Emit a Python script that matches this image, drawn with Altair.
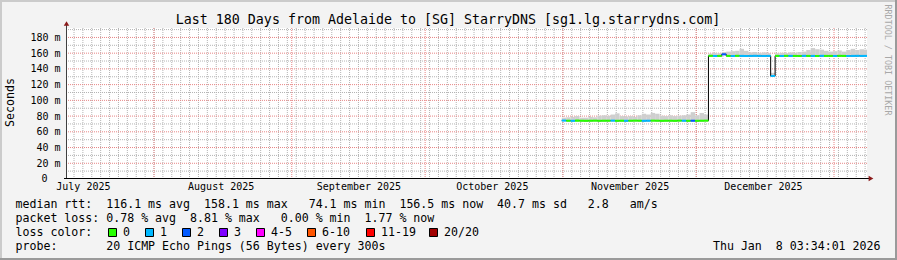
import altair as alt
import pandas as pd

# ---------------- data ----------------
SAMPLE_START = "2025-10-31T18:00:00Z"   # first consolidated (daily) sample
VIEW_START = "2025-07-12T10:12:00Z"     # left edge of the 180-day window

median_ms = [
    74.3, 74.1, 74.0, 74.2, 74.1, 74.0, 74.1, 74.2, 74.0, 74.1,
    74.1, 74.2, 74.0, 74.1, 74.0, 74.1, 74.2, 74.1, 74.0, 74.1,
    74.2, 74.1, 74.0, 74.1, 74.1, 74.0, 74.2, 74.1, 74.0, 74.1,
    74.0, 74.1, 74.2,
    156.6, 156.4, 156.5, 158.5, 156.5, 156.4, 156.6, 156.5, 156.4, 156.5,
    156.6, 156.5, 156.4, 156.5, 131.0, 156.5, 156.4, 156.6, 156.5, 156.5,
    156.4, 156.6, 156.5, 156.5, 156.4, 156.6, 156.5, 156.5, 156.4, 156.6,
    156.5, 156.4, 156.5, 156.6, 156.5, 156.5,
]
smoke_top_ms = [
    78, 78.5, 79, 80, 78, 78, 79, 78.5, 80.5, 81,
    80.5, 82, 83.5, 80, 79.5, 80, 79, 81, 83, 82,
    84, 83, 80.5, 80, 81, 80, 80.5, 81, 82, 85,
    81, 84, 82,
    159.5, 160.5, 160, 161.5, 162, 162.5, 163, 165.5, 163, 161,
    161.5, 160.5, 161, 160, 135, 160, 160.5, 160, 161, 160.5,
    161.5, 162, 164, 166.5, 165, 164.5, 163, 162, 162.5, 163.5,
    162, 164, 165.5, 164, 165, 164.5,
]
loss_pings = [
    1, 0, 1, 0, 0, 0, 0, 0, 0, 0,
    0, 1, 0, 0, 1, 0, 0, 0, 1, 1,
    0, 0, 0, 0, 0, 0, 0, 1, 0, 2,
    0, 0, 0,
    0, 1, 0, 2, 0, 1, 0, 1, 1, 1,
    1, 1, 1, 1, 1, 0, 1, 0, 1, 0,
    0, 1, 0, 1, 0, 1, 0, 0, 1, 0,
    0, 1, 1, 1, 1, 1,
]

loss_labels = ["0", "1", "2", "3", "4-5", "6-10", "11-19", "20/20"]
loss_colors = ["#26ff00", "#00b8ff", "#0059ff", "#7e00ff",
               "#ff00ff", "#ff5500", "#ff0000", "#a10000"]

month_starts = ["2025-08-01", "2025-09-01", "2025-10-01",
                "2025-11-01", "2025-12-01", "2026-01-01"]
month_label_days = [(2025, 7), (2025, 8), (2025, 9), (2025, 10), (2025, 11), (2025, 12)]
y_major = [0, 20, 40, 60, 80, 100, 120, 140, 160, 180]
y_minor = [10, 30, 50, 70, 90, 110, 130, 150, 170, 190]

title_text = "Last 180 Days from Adelaide to [SG] StarryDNS [sg1.lg.starrydns.com]"
y_title = "Seconds"
legend_lines = [
    "median rtt:  116.1 ms avg  158.1 ms max   74.1 ms min  156.5 ms now  40.7 ms sd   2.8   am/s",
    "packet loss: 0.78 % avg  8.81 % max   0.00 % min  1.77 % now",
    "loss color:",
    "probe:       20 ICMP Echo Pings (56 Bytes) every 300s",
]
stamp_text = "Thu Jan  8 03:34:01 2026"
watermark = "RRDTOOL / TOBI OETIKER"

# ---------------- tables ----------------
def bucket(n):
    if n <= 3:
        return str(n)
    if n <= 5:
        return "4-5"
    if n <= 10:
        return "6-10"
    if n <= 19:
        return "11-19"
    return "20/20"

FMT = "%Y-%m-%dT%H:%M:%SZ"
t = pd.date_range(pd.Timestamp(SAMPLE_START), periods=len(median_ms), freq="D")
df = pd.DataFrame({
    "t": t.strftime(FMT),
    "t2": (t + pd.Timedelta(days=1)).strftime(FMT),
    "median": median_ms,
    "top": smoke_top_ms,
    "loss": [bucket(n) for n in loss_pings],
})

v0 = pd.Timestamp(VIEW_START)
v1 = v0 + pd.Timedelta(days=180)
x_domain = [int(v0.value // 10**6), int(v1.value // 10**6)]

minor_days = pd.date_range(pd.Timestamp("2025-07-14T00:00:00Z"), v1, freq="2D")
df_vminor = pd.DataFrame({"t": minor_days.strftime(FMT)})
df_vmajor = pd.DataFrame({"t": [d + "T00:00:00Z" for d in month_starts]})
df_hminor = pd.DataFrame({"v": y_minor})
df_hmajor = pd.DataFrame({"v": y_major[1:]})
df_zero = pd.DataFrame({"v": [y_major[0]]})
one = pd.DataFrame({"k": [0]})

# ---------------- style ----------------
FONT = "DejaVu Sans Mono"
L, T = 67, 28          # plot origin on the canvas
W, H = 800, 151
GRID = "#b4b4b4"
MGRID = "#e78585"
NB = "\u00a0"

xscale = alt.Scale(type="utc", domain=x_domain)
yscale = alt.Scale(domain=[0, 192], nice=False, zero=True)

xaxis = alt.Axis(
    values=[alt.DateTime(year=y, month=m, date=16, utc=True) for y, m in month_label_days],
    labelExpr="utcFormat(datum.value, '%B %Y')",
    ticks=False, tickSize=0, domain=False, grid=False,
    labelFont=FONT, labelFontSize=10, labelColor="black", labelPadding=10.8,
    labelBaseline="alphabetic", labelOverlap=False, labelFlush=False, title=None,
)
yaxis = alt.Axis(
    values=y_major[1:],
    labelExpr=f"datum.value + '{NB}m'",
    ticks=False, tickSize=0, domain=False, grid=False,
    labelFont=FONT, labelFontSize=10, labelColor="black", labelPadding=7, title=None,
)

def X(field):
    return alt.X(field, scale=xscale, axis=xaxis, title=None)

def Y(field):
    return alt.Y(field, scale=yscale, axis=yaxis, title=None)

layers = []
layers.append(alt.Chart(df_vminor).mark_rule(color=GRID, strokeDash=[1, 1], strokeWidth=1)
              .encode(x=X("t:T")))
layers.append(alt.Chart(df_hminor).mark_rule(color=GRID, strokeDash=[1, 1], strokeWidth=1)
              .encode(y=Y("v:Q")))
layers.append(alt.Chart(df_vmajor).mark_rule(color=MGRID, strokeDash=[1, 1], strokeWidth=1)
              .encode(x=X("t:T")))
layers.append(alt.Chart(df_hmajor).mark_rule(color=MGRID, strokeDash=[1, 1], strokeWidth=1)
              .encode(y=Y("v:Q")))
# the bare "0" label of the value axis (no unit), set in the digit column
layers.append(alt.Chart(df_zero).mark_text(font=FONT, fontSize=10, align="right", baseline="middle",
                                           color="black", dx=-19.5)
              .encode(x=alt.value(0), y=Y("v:Q"), text=alt.Text("v:Q")))

# smoke
layers.append(alt.Chart(df).mark_rect(color="#cfcfcf", clip=True).encode(
    x=X("t:T"), x2="t2:T", y=Y("median:Q"), y2="top:Q"))
# black connecting median line
layers.append(alt.Chart(df).mark_line(color="black", strokeWidth=1, interpolate="step-after", clip=True).encode(
    x=X("t:T"), y=Y("median:Q")))
# loss-coloured median
layers.append(alt.Chart(df).transform_calculate(lo="datum.median - 1.3", hi="datum.median + 1.3")
              .mark_rect(clip=True).encode(
    x=X("t:T"), x2="t2:T", y=Y("lo:Q"), y2="hi:Q",
    color=alt.Color("loss:N", scale=alt.Scale(domain=loss_labels, range=loss_colors), legend=None)))

def at(x, y):
    return dict(x=alt.value(x - L), y=alt.value(y - T))

def rect(x1, y1, x2, y2, fill, stroke=None):
    kw = dict(fill=fill)
    if stroke:
        kw.update(stroke=stroke, strokeWidth=1)
    return alt.Chart(one).mark_rect(**kw).encode(
        x=alt.value(x1 - L), x2=alt.value(x2 - L), y=alt.value(y1 - T), y2=alt.value(y2 - T))

def text(s, x, y, size=11.6, align="left", baseline="alphabetic", angle=0, color="black"):
    return alt.Chart(one).mark_text(
        text=s.replace(" ", NB), font=FONT, fontSize=size, align=align,
        baseline=baseline, angle=angle, color=color).encode(**at(x, y))

# axes lines and arrows
layers.append(alt.Chart(one).mark_rule(color="#404040", strokeWidth=1).encode(
    x=alt.value(-0.5), y=alt.value(23 - T), y2=alt.value(179 - T)))
layers.append(alt.Chart(one).mark_rule(color="black", strokeWidth=1).encode(
    x=alt.value(-3), x2=alt.value(870 - L), y=alt.value(178.5 - T)))
layers.append(alt.Chart(one).mark_point(shape="triangle-up", filled=True, size=30, color="#8b1a1a", opacity=1)
              .encode(x=alt.value(66.5 - L), y=alt.value(23.5 - T)))
layers.append(alt.Chart(one).mark_point(shape="triangle-right", filled=True, size=30, color="#8b1a1a", opacity=1)
              .encode(x=alt.value(871 - L), y=alt.value(178.5 - T)))

# texts
layers.append(text(title_text, 448, 24, size=13.3, align="center"))
layers.append(text(y_title, 10.5, 102.5, size=11.6, align="center", baseline="middle", angle=270))
layers.append(text(watermark, 887.5, 60, size=8.4, align="center", baseline="middle", angle=90, color="#a8a8a8"))
for i, line in enumerate(legend_lines):
    layers.append(text(line, 15.5, 208.3 + 13.8 * i))
layers.append(text(stamp_text, 880.5, 249.7, align="right"))

box_x = [108.5, 145.5, 182.5, 219.5, 256.5, 307.5, 366.5, 429.5]
for bx, lab, col in zip(box_x, loss_labels, loss_colors):
    layers.append(rect(bx, 228.5, bx + 8, 236.5, col, stroke="black"))
    layers.append(text(lab, bx + 14.5, 235.9))

# 3D frame
layers.append(rect(0, 0, 897, 2, "#cbcbcb"))
layers.append(rect(0, 0, 2, 260, "#cbcbcb"))
layers.append(rect(895, 0, 897, 260, "#9a9a9a"))
layers.append(rect(0, 258, 897, 260, "#9a9a9a"))

chart = alt.layer(*layers).properties(
    width=W, height=H,
    padding={"left": L, "top": T, "right": 897 - L - W, "bottom": 260 - T - H},
    autosize=alt.AutoSizeParams(type="none"),
).configure(background="#f3f3f3").configure_view(fill="white", stroke=None)

chart.save("out.html", embed_options={"renderer": "svg", "actions": False})
